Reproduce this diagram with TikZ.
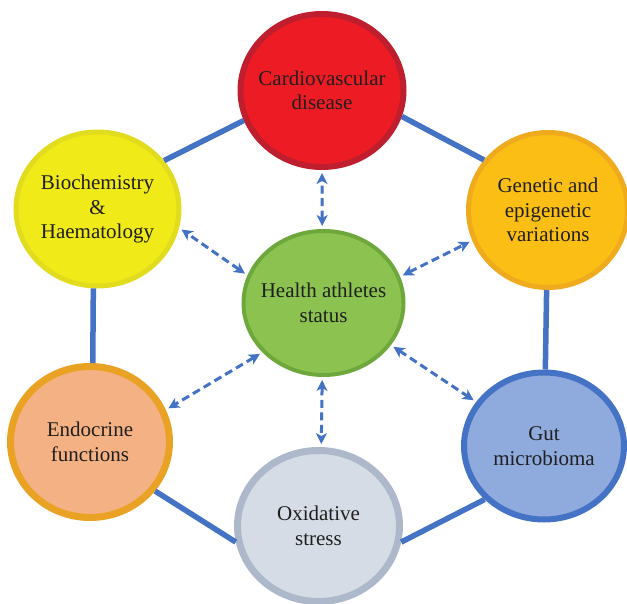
\documentclass[tikz,border=0pt]{standalone}
\usepackage{fontspec}
\setmainfont{Liberation Serif}
\usetikzlibrary{shapes.geometric,arrows.meta}

\definecolor{linkblue}{HTML}{4472C4}

\begin{document}
\begin{tikzpicture}[
        x=1pt, y=-1pt,
        topic/.style={ellipse, draw, inner sep=-15pt, align=center, text=black!88, font=\fontsize{21}{24.5}\selectfont},
        ring/.style={draw=linkblue, line width=5.5pt},% solid link between outer topics
        effect/.style={draw=linkblue, line width=3pt, dash pattern=on 8pt off 4.5pt,
            {Stealth[length=11pt,width=11pt,inset=3pt]}-{Stealth[length=11pt,width=11pt,inset=3pt]},
            shorten <=3pt, shorten >=3pt},% dashed two-way arrow to the centre
    ]
        \useasboundingbox (0,0) rectangle (627,604);

        \node [topic, fill={rgb,255:red,237;green,28;blue,36}, draw={rgb,255:red,190;green,30;blue,45}, line width=6pt,
            minimum width=163pt, minimum height=153pt] (cardio) at (322,90.5) {Cardiovascular\\disease};
        \node [topic, fill={rgb,255:red,240;green,234;blue,25}, draw={rgb,255:red,226;green,220;blue,30}, line width=5pt,
            minimum width=163pt, minimum height=154pt] (biochem) at (97.5,209) {Biochemistry\\\&\\Haematology};
        \node [topic, fill={rgb,255:red,250;green,190;blue,20}, draw={rgb,255:red,240;green,170;blue,30}, line width=5pt,
            minimum width=159pt, minimum height=155pt] (genetic) at (548,210) {Genetic and\\epigenetic\\variations};
        \node [topic, fill={rgb,255:red,140;green,195;blue,80}, draw={rgb,255:red,110;green,168;blue,60}, line width=4pt,
            minimum width=160pt, minimum height=144pt] (health) at (323.5,303) {Health athletes\\status};
        \node [topic, fill={rgb,255:red,244;green,177;blue,131}, draw={rgb,255:red,234;green,162;blue,36}, line width=7pt,
            minimum width=159pt, minimum height=151pt] (endocrine) at (90,442) {Endocrine\\functions};
        \node [topic, fill={rgb,255:red,143;green,170;blue,220}, draw=linkblue, line width=6pt,
            minimum width=160pt, minimum height=147pt] (gut) at (544,446) {Gut\\microbioma};
        \node [topic, fill={rgb,255:red,214;green,220;blue,229}, draw={rgb,255:red,173;green,185;blue,202}, line width=7pt,
            minimum width=162pt, minimum height=151pt] (oxidative) at (318.5,526) {Oxidative\\stress};

        % outer ring
        \draw [ring] (cardio.201) -- (biochem.36);
        \draw [ring] (cardio.-18) -- (genetic.142);
        \draw [ring] (biochem.-93) -- (endocrine.88);
        \draw [ring] (genetic.-91) -- (gut.89);
        \draw [ring] (endocrine.-37) -- (oxidative.-169);
        \draw [ring] (gut.-138) -- (oxidative.-11);

        % links to the centre
        \draw [effect] (health.91) -- (cardio.-90);
        \draw [effect] (health.160) -- (biochem.-13);
        \draw [effect] (health.19) -- (genetic.-158);
        \draw [effect] (health.-141) -- (endocrine.23);
        \draw [effect] (health.-32) -- (gut.147);
        \draw [effect] (health.-91) -- (oxidative.88);
\end{tikzpicture}
\end{document}
